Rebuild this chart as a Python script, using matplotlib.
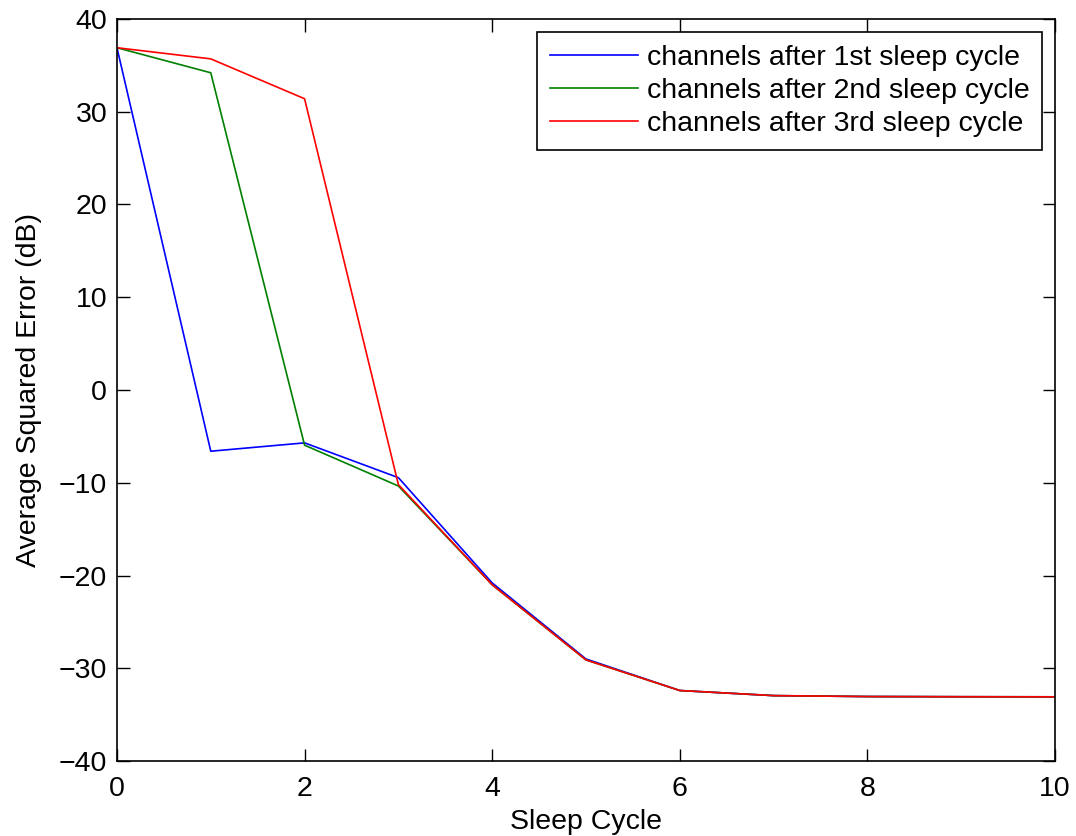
import matplotlib
matplotlib.use("Agg")
import matplotlib.pyplot as plt

plt.rcParams['font.family'] = ['Liberation Sans', 'DejaVu Sans']

# Sleep cycle index
cycles = [0, 1, 2, 3, 4, 5, 6, 7, 8, 9, 10]

# Average squared error (dB) per channel set
after_1st = [36.9, -6.6, -5.7, -9.45, -20.8, -29.0, -32.4, -32.95, -33.05, -33.07, -33.08]
after_2nd = [36.9, 34.2, -5.95, -10.35, -21.0, -29.1, -32.4, -32.95, -33.05, -33.07, -33.08]
after_3rd = [36.9, 35.7, 31.4, -10.2, -21.0, -29.1, -32.4, -32.95, -33.05, -33.07, -33.08]

labels = ["channels after 1st sleep cycle",
          "channels after 2nd sleep cycle",
          "channels after 3rd sleep cycle"]
colors = ['blue', 'green', 'red']

fs = 20.5

fig = plt.figure(figsize=(10.76, 8.36), dpi=100)
ax = fig.add_axes([0.1087, 0.0897, 0.8718, 0.8876])

for series, lab, col in zip([after_1st, after_2nd, after_3rd], labels, colors):
    ax.plot(cycles, series, color=col, linewidth=1.2, label=lab)

ax.set_xlim(0, 10)
ax.set_ylim(-40, 40)
ax.set_xticks(range(0, 11, 2))
ax.set_yticks(range(-40, 41, 10))
ax.tick_params(direction='in', top=True, right=True, length=9, width=1,
               labelsize=fs)
ax.tick_params(axis='x', pad=11)
ax.tick_params(axis='y', pad=7)
for s in ax.spines.values():
    s.set_linewidth(1.2)

ax.set_xlabel('Sleep Cycle', fontsize=fs, labelpad=5)
ax.set_ylabel('Average Squared Error (dB)', fontsize=fs, labelpad=12)

leg = ax.legend(loc='upper right', fontsize=fs, frameon=True, fancybox=False,
                edgecolor='black', framealpha=1, handlelength=3.1,
                borderaxespad=0.45, labelspacing=0.26, handletextpad=0.3,
                borderpad=0.45)
leg.get_frame().set_linewidth(1.2)

fig.savefig('out.png', dpi=100)
